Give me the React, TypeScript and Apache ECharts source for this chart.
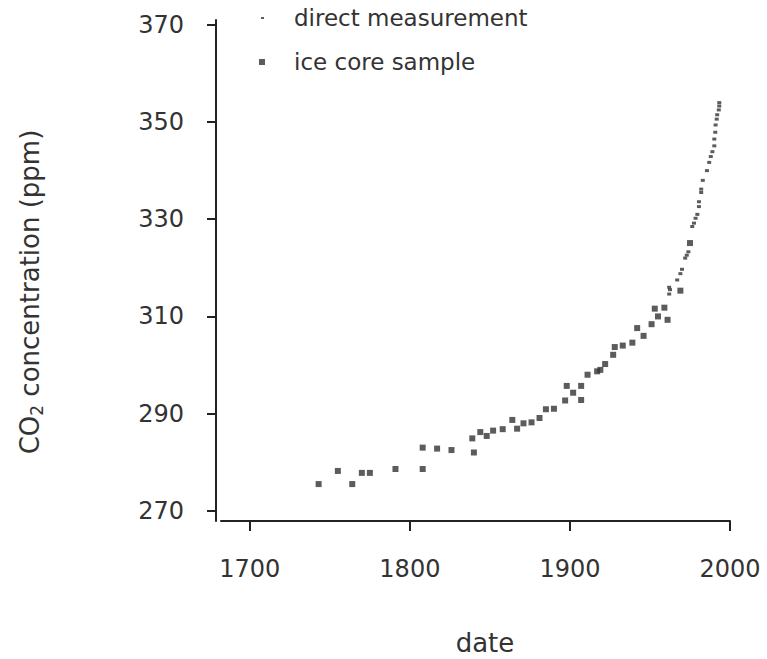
import React, { useEffect, useRef } from "react";
import * as echarts from "echarts";

// Ice core samples (year, CO2 ppm)
const iceYears = [1743, 1755, 1764, 1770, 1775, 1791, 1808, 1808, 1817, 1826, 1839, 1840, 1844, 1848, 1852, 1858, 1864, 1867, 1871, 1876, 1881, 1885, 1890, 1897, 1898, 1902, 1907, 1907, 1911, 1917, 1919, 1922, 1927, 1928, 1933, 1939, 1942, 1946, 1951, 1953, 1955, 1959, 1961, 1969, 1975];
const icePpm = [275.5, 278.2, 275.5, 277.8, 277.8, 278.6, 278.6, 283.0, 282.8, 282.5, 284.9, 282.0, 286.2, 285.4, 286.5, 286.8, 288.7, 286.9, 288.0, 288.2, 289.1, 290.9, 291.0, 292.7, 295.7, 294.3, 295.7, 292.8, 298.0, 298.7, 299.0, 300.2, 302.1, 303.7, 304.0, 304.6, 307.6, 306.0, 308.4, 311.6, 310.0, 311.8, 309.3, 315.3, 325.1];

// Direct measurements (year, CO2 ppm)
const directYears = [1962, 1962.5, 1962, 1967, 1969, 1970, 1972, 1973, 1974, 1976.4, 1977.5, 1978.5, 1979.6, 1980.6, 1980.6, 1982, 1982, 1983, 1985.6, 1987, 1988, 1989, 1990.2, 1990.2, 1990.8, 1991, 1991.7, 1992, 1993, 1993.3, 1993.3];
const directPpm = [314.6, 315.5, 316.0, 317.5, 318.8, 319.7, 322.0, 322.6, 323.3, 328.5, 329.2, 330.2, 331.0, 332.6, 333.6, 335.5, 336.2, 338.0, 340.0, 341.7, 342.9, 343.9, 345.1, 346.5, 347.9, 349.4, 350.6, 351.5, 352.5, 353.3, 354.0];

const xTicks = [1700, 1800, 1900, 2000];
const yTicks = [270, 290, 310, 330, 350, 370];

const seriesNames = ["direct measurement", "ice core sample"];

const FONT = "DejaVu Sans";
const INK = "#333";

export default function App() {
  const ref = useRef<HTMLDivElement>(null);

  useEffect(() => {
    document.body.style.margin = "0";
    if (!ref.current) return;
    const chart = echarts.init(ref.current, undefined, { renderer: "svg" });

    const iceData = iceYears.map((y, i) => [y, icePpm[i]]);
    const directData = directYears.map((y, i) => [y, directPpm[i]]);

    chart.setOption({
      animation: false,
      backgroundColor: "#fff",
      textStyle: { fontFamily: FONT, color: INK },
      grid: { left: 221, right: 37, top: 20, bottom: 138, containLabel: false },
      legend: {
        orient: "vertical",
        left: 254,
        top: 0,
        itemWidth: 30,
        itemHeight: 6,
        itemGap: 18,
        selectedMode: false,
        textStyle: { fontFamily: FONT, fontSize: 23, color: INK, lineHeight: 26 },
        data: [
          { name: seriesNames[0], icon: "path://M0,0M30,6M2,2h3v2h-3z", itemStyle: { color: INK } },
          { name: seriesNames[1], icon: "path://M0,0M30,6M0,0h6v6h-6z", itemStyle: { color: INK } },
        ],
      },
      xAxis: {
        type: "value",
        min: 1682,
        max: 2000,
        splitLine: { show: false },
        axisLine: { show: true, lineStyle: { color: "#222", width: 2 } },
        axisTick: { show: true, customValues: xTicks, length: 10, lineStyle: { color: "#222", width: 2 } },
        axisLabel: {
          customValues: xTicks,
          formatter: (v: number) => String(v),
          margin: 36,
          fontFamily: FONT,
          fontSize: 24,
          color: INK,
        },
      },
      yAxis: {
        type: "value",
        min: 267.9,
        max: 371.0,
        offset: 5,
        splitLine: { show: false },
        axisLine: { show: true, lineStyle: { color: "#222", width: 2 } },
        axisTick: { show: true, customValues: yTicks, length: 9, lineStyle: { color: "#222", width: 2 } },
        axisLabel: {
          customValues: yTicks,
          formatter: (v: number) => String(v),
          margin: 32,
          fontFamily: FONT,
          fontSize: 24,
          color: INK,
        },
      },
      graphic: [
        {
          type: "text",
          x: 30,
          y: 292,
          rotation: Math.PI / 2,
          style: {
            text: "{a|CO}{b|2}{a| concentration (ppm)}",
            align: "center",
            verticalAlign: "middle",
            fill: INK,
            rich: {
              a: { fontFamily: FONT, fontSize: 26, lineHeight: 30, fill: INK, color: INK },
              b: { fontFamily: FONT, fontSize: 17, lineHeight: 17, verticalAlign: "bottom", fill: INK, color: INK },
            },
          },
        },
        {
          type: "text",
          x: 485,
          y: 643,
          style: {
            text: "date",
            align: "center",
            verticalAlign: "middle",
            fontFamily: FONT,
            fontSize: 26,
            fill: INK,
          },
        },
      ],
      series: [
        {
          name: seriesNames[0],
          type: "scatter",
          data: directData,
          symbol: "rect",
          symbolSize: [4, 3],
          itemStyle: { color: INK },
        },
        {
          name: seriesNames[1],
          type: "scatter",
          data: iceData,
          symbol: "rect",
          symbolSize: 6,
          itemStyle: { color: INK },
        },
      ],
    });

    return () => chart.dispose();
  }, []);

  return <div ref={ref} style={{ width: 767, height: 659 }} />;
}
